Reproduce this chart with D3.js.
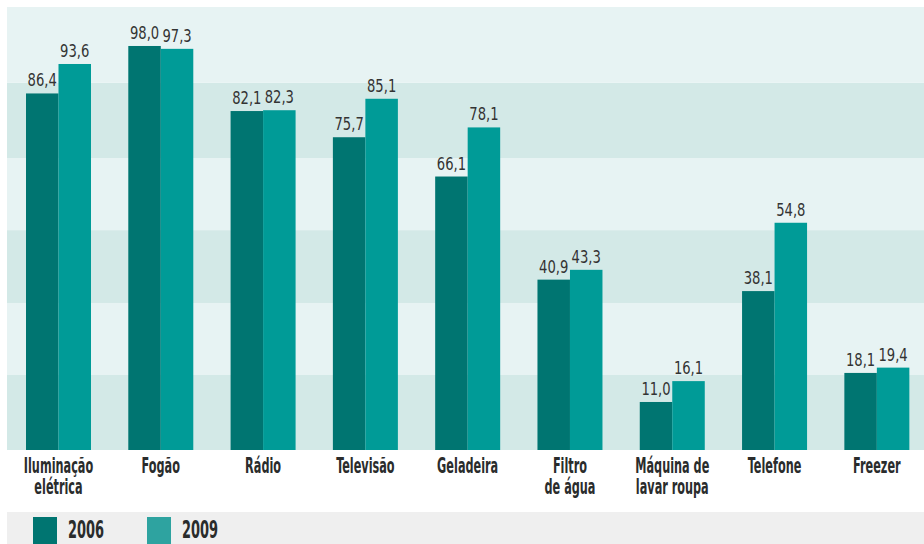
<!DOCTYPE html>
<html>
<head>
<meta charset="utf-8">
<script src="https://cdn.jsdelivr.net/npm/d3@7"></script>
<style>
  html, body { margin: 0; padding: 0; background: #ffffff; }
  svg { display: block; }
</style>
</head>
<body>
<svg id="chart" width="924" height="544"></svg>
<script>
// ---- data ----
const categories = [
  ["Iluminação", "elétrica"],
  ["Fogão"],
  ["Rádio"],
  ["Televisão"],
  ["Geladeira"],
  ["Filtro", "de água"],
  ["Máquina de", "lavar roupa"],
  ["Telefone"],
  ["Freezer"]
];
const seriesNames = ["2006", "2009"];
const values2006 = [86.4, 98.0, 82.1, 75.7, 66.1, 40.9, 11.0, 38.1, 18.1];
const values2009 = [93.6, 97.3, 82.3, 85.1, 78.1, 43.3, 16.1, 54.8, 19.4];
// background band boundaries (in value units)
const bandBreaks = [17.6, 35.2, 53.0, 70.6, 89.0];

// ---- layout ----
const W = 924, H = 544;
const plotLeft = 7, plotTop = 7, plotRight = 924, plotBottom = 450;
const colors = { "2006": "#007571", "2009": "#009b97" };
const legendColors = { "2006": "#007571", "2009": "#2ea3a0" };
const bandColors = ["#d3e9e7", "#e7f3f3"];
const FONT = "'DejaVu Sans Condensed', 'Liberation Sans Narrow', 'Liberation Sans', sans-serif";

const svg = d3.select("#chart");

// scales
const keys = categories.map(c => c.join(" "));
const x0 = d3.scaleBand()
  .domain(keys)
  .range([7.35, 928])
  .paddingInner(0.3646)
  .paddingOuter(0.1823);
const x1 = d3.scaleBand()
  .domain(seriesNames)
  .range([0, x0.bandwidth()])
  .padding(0);
const y = d3.scaleLinear().domain([0, 100]).range([447, 447 - 409.2]);

// background bands (from bottom up)
const edges = [plotBottom, ...bandBreaks.map(v => y(v)), plotTop];
const bands = d3.range(edges.length - 1).map(i => ({ i, y0: edges[i + 1], y1: edges[i] }));
svg.append("g").selectAll("rect")
  .data(bands)
  .join("rect")
  .attr("x", plotLeft)
  .attr("y", d => d.y0)
  .attr("width", plotRight - plotLeft)
  .attr("height", d => d.y1 - d.y0)
  .attr("fill", d => bandColors[d.i % 2]);

const rows = keys.map((k, i) => ({
  key: k,
  lines: categories[i],
  vals: [
    { s: "2006", v: values2006[i] },
    { s: "2009", v: values2009[i] }
  ]
}));

const fmt = v => d3.format(".1f")(v).replace(".", ",");

const groups = svg.append("g").selectAll("g")
  .data(rows)
  .join("g")
  .attr("transform", d => `translate(${x0(d.key)},0)`);

groups.selectAll("rect")
  .data(d => d.vals)
  .join("rect")
  .attr("x", d => x1(d.s))
  .attr("y", d => y(d.v))
  .attr("width", x1.bandwidth())
  .attr("height", d => plotBottom - y(d.v))
  .attr("fill", d => colors[d.s]);

groups.selectAll("text.val")
  .data(d => d.vals)
  .join("text")
  .attr("class", "val")
  .attr("transform", d => `translate(${x1(d.s) + x1.bandwidth() / 2},${y(d.v) - 7}) scale(0.86,1)`)
  .attr("text-anchor", "middle")
  .attr("font-family", FONT)
  .attr("font-size", 17)
  .attr("fill", "#333333")
  .text(d => fmt(d.v));

// category labels
const catG = svg.append("g").selectAll("g")
  .data(rows)
  .join("g")
  .attr("transform", d => `translate(${x0(d.key) + x0.bandwidth() / 2},473) scale(0.57,1)`);
catG.selectAll("text")
  .data(d => d.lines)
  .join("text")
  .attr("x", 0)
  .attr("y", (d, i) => i * 21)
  .attr("text-anchor", "middle")
  .attr("font-family", FONT)
  .attr("font-weight", "bold")
  .attr("font-size", 22)
  .attr("fill", "#2a2c2c")
  .text(d => d);

// legend
svg.append("rect")
  .attr("x", 7).attr("y", 512)
  .attr("width", W - 7).attr("height", H - 512)
  .attr("fill", "#efefef");

const legendX = [33, 147];
const lg = svg.append("g").selectAll("g")
  .data(seriesNames)
  .join("g")
  .attr("transform", (d, i) => `translate(${legendX[i]},517)`);
lg.append("rect")
  .attr("width", 24).attr("height", 27)
  .attr("fill", d => legendColors[d]);
lg.append("text")
  .attr("transform", "translate(35,20.5) scale(0.6,1)")
  .attr("font-family", FONT)
  .attr("font-weight", "bold")
  .attr("font-size", 24)
  .attr("fill", "#2a2c2c")
  .text(d => d);
</script>
</body>
</html>
